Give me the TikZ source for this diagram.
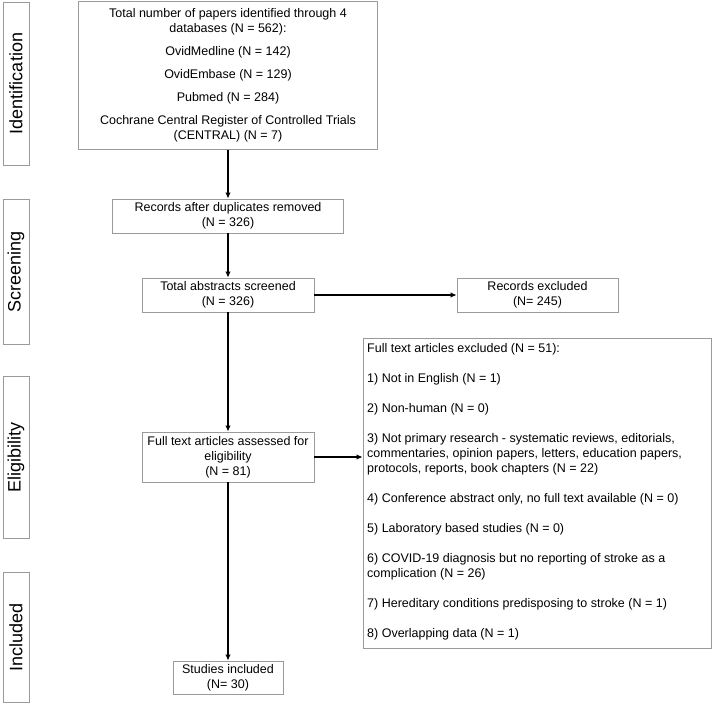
\documentclass[tikz,border=0pt]{standalone}
\usepackage{fontspec}
\setmainfont{Liberation Sans}
\usetikzlibrary{arrows.meta}
\definecolor{boxgray}{HTML}{9A9A9A}
\tikzset{
  box/.style={draw=boxgray, line width=0.8pt, inner sep=0pt, align=center, font=\fontsize{12.5}{15}\selectfont},
  side/.style={draw=boxgray, line width=0.8pt, inner sep=0pt, minimum width=26pt, font=\fontsize{18}{20}\selectfont},
  sidetext/.style={rotate=90, inner sep=0pt, font=\fontsize{18}{20}\selectfont},
  arr/.style={line width=2pt, -{Latex[length=6pt,width=5.5pt]}},
}
\begin{document}
\begin{tikzpicture}[x=1pt,y=-1pt]
\useasboundingbox (0,0) rectangle (712,704);
% side labels
\node[side, minimum height=163pt] (sid) at (16,83.5) {};
\node[sidetext] (tid) at (sid.center) {Identification};
\node[side, minimum height=145pt] (ssc) at (16,271.5) {};
\node[sidetext] (tsc) at (ssc.center) {Screening};
\node[side, minimum height=162pt] (sel) at (16,457) {};
\node[sidetext] (tel) at (sel.center) {Eligibility};
\node[side, minimum height=130pt] (sin) at (16,637) {};
\node[sidetext] (tin) at (sin.center) {Included};
% main flow
\node[box, minimum width=299pt, minimum height=148pt] (b1) at (228,75.5) {Total number of papers identified through 4\\databases (N = 562):\\[8pt]OvidMedline (N = 142)\\[8pt]OvidEmbase (N = 129)\\[8pt]Pubmed (N = 284)\\[8pt]Cochrane Central Register of Controlled Trials\\(CENTRAL) (N = 7)};
\node[box, minimum width=231pt, minimum height=34pt] (b2) at (228,216) {Records after duplicates removed\\(N = 326)};
\node[box, minimum width=172pt, minimum height=34pt] (b3) at (228,295) {Total abstracts screened\\(N = 326)};
\node[box, minimum width=161pt, minimum height=34pt] (ex) at (537.5,295) {Records excluded\\(N= 245)};
\node[box, minimum width=172pt, minimum height=50pt] (b4) at (228,457) {Full text articles assessed for\\eligibility\\(N = 81)};
\node[box, minimum width=110pt, minimum height=33pt] (b5) at (228,677.5) {Studies included\\(N= 30)};
\node[box, minimum width=348pt, minimum height=310pt] (bx) at (537,493) {};
\node[inner sep=0pt, anchor=north west, align=left, font=\fontsize{12.5}{15}\selectfont] (bxt) at (367,343) {Full text articles excluded (N = 51):\\[15pt]
1) Not in English (N = 1)\\[15pt]
2) Non-human (N = 0)\\[15pt]
3) Not primary research - systematic reviews, editorials,\\
commentaries, opinion papers, letters, education papers,\\
protocols, reports, book chapters (N = 22)\\[15pt]
4) Conference abstract only, no full text available (N = 0)\\[15pt]
5) Laboratory based studies (N = 0)\\[15pt]
6) COVID-19 diagnosis but no reporting of stroke as a\\
complication (N = 26)\\[15pt]
7) Hereditary conditions predisposing to stroke (N = 1)\\[15pt]
8) Overlapping data (N = 1)};
% connectors
\draw[arr] (b1.south) -- (b2.north);
\draw[arr] (b2.south) -- (b3.north);
\draw[arr] (b3.south) -- (b4.north);
\draw[arr] (b4.south) -- (b5.north);
\draw[arr] (b3.east) -- (ex.west);
\draw[arr] (b4.east) -- (b4.east -| bx.west);
\end{tikzpicture}
\end{document}
